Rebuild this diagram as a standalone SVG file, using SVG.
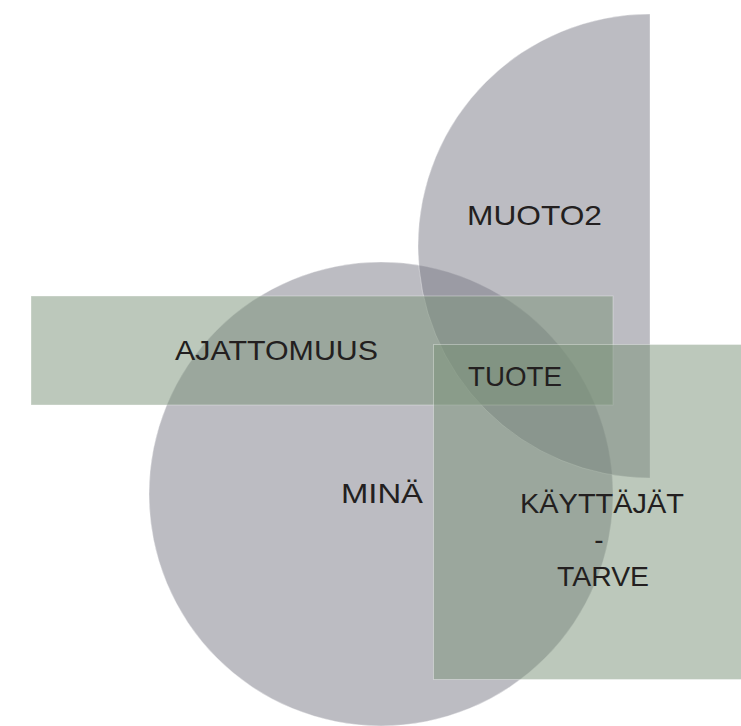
<svg xmlns="http://www.w3.org/2000/svg" width="741" height="726" viewBox="0 0 741 726">
<style>
.gray{fill:#797985;fill-opacity:0.5;stroke:#ffffff;stroke-opacity:0.35;stroke-width:1}
.green{fill:#7a9277;fill-opacity:0.5;stroke:#ffffff;stroke-opacity:0.35;stroke-width:1}
.lbl{font-family:"Liberation Sans",Arial,sans-serif;font-size:28px;fill:#231f20}
</style>
<rect x="0" y="0" width="741" height="726" fill="#ffffff"/>
<g id="mina">
<circle class="gray" cx="381" cy="494" r="232"/>
</g>
<g id="muoto2">
<path class="gray" d="M650,14 A232,232 0 0 0 650,478 Z"/>
</g>
<g id="ajattomuus">
<rect class="green" x="31" y="296" width="582" height="109"/>
</g>
<g id="kayttajat">
<rect class="green" x="433.5" y="344.5" width="308" height="335"/>
</g>
<g id="labels">
<text class="lbl" x="467" y="225" textLength="135" lengthAdjust="spacingAndGlyphs">MUOTO2</text>
<text class="lbl" x="175" y="360" textLength="203" lengthAdjust="spacingAndGlyphs">AJATTOMUUS</text>
<text class="lbl" x="468" y="386" textLength="94" lengthAdjust="spacingAndGlyphs">TUOTE</text>
<text class="lbl" x="341" y="503" textLength="82" lengthAdjust="spacingAndGlyphs">MINÄ</text>
<text class="lbl" x="520" y="513" textLength="164" lengthAdjust="spacingAndGlyphs">KÄYTTÄJÄT</text>
<text class="lbl" x="599" y="549" text-anchor="middle">-</text>
<text class="lbl" x="557" y="586" textLength="92" lengthAdjust="spacingAndGlyphs">TARVE</text>
</g>
<g id="connectors"></g>
</svg>
